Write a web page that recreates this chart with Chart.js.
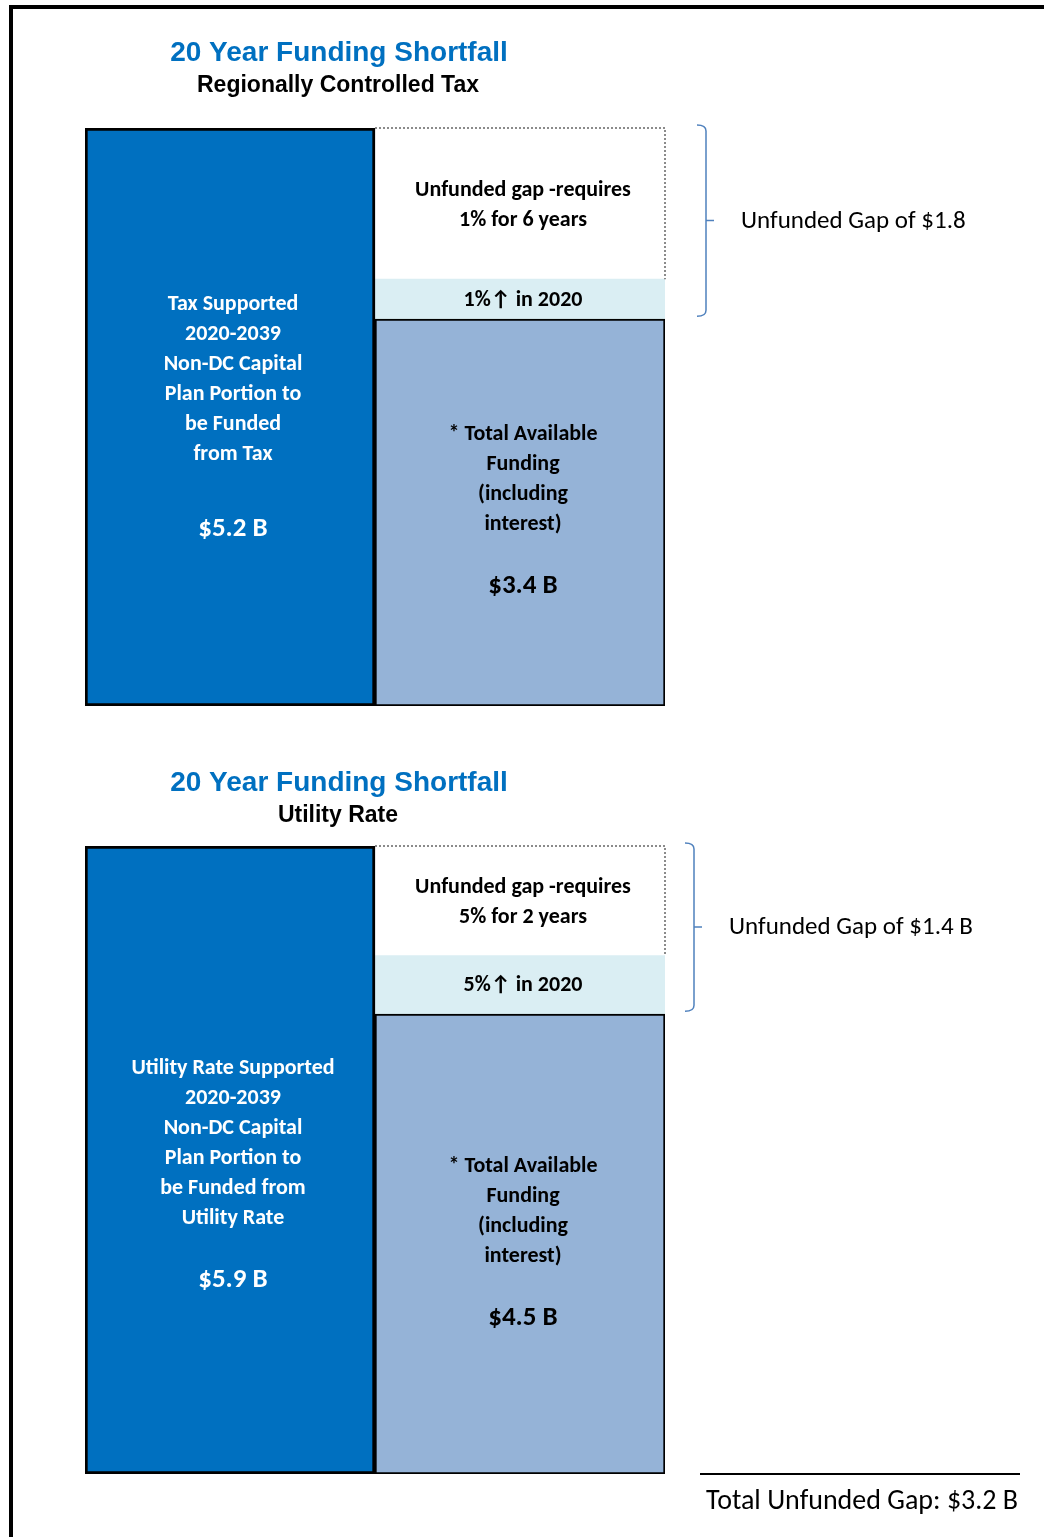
<!DOCTYPE html>
<html>
<head>
<meta charset="utf-8">
<script src="https://cdn.jsdelivr.net/npm/chart.js@4.4.0/dist/chart.umd.min.js"></script>
<style>
  body { margin: 0; background: #fff; width: 1044px; height: 1537px; position: relative; overflow: hidden; }
  .frame { position: absolute; left: 9px; top: 5px; width: 1100px; height: 1600px; border-top: 4px solid #000; border-left: 4px solid #000; }
  canvas { position: absolute; left: 0; }
  #taxChart { top: 0; }
  #utilChart { top: 740px; }
</style>
</head>
<body>
<div class="frame"></div>
<canvas id="taxChart" width="1044" height="740"></canvas>
<canvas id="utilChart" width="1044" height="797"></canvas>
<script>
// categories: left = what the plan needs, right = how it is paid
const categories = ['Plan', 'Funding'];

// Regionally controlled tax ($ billions)
const taxPlan = [5.2, null];
const taxAvailable = [null, 3.48];
const taxIncrease = [null, 0.36];
const taxGap = [null, 1.36];

// Utility rate ($ billions)
const utilPlan = [5.9, null];
const utilAvailable = [null, 4.32];
const utilIncrease = [null, 0.55];
const utilGap = [null, 1.03];

const taxLeftLines = ['Tax Supported', '2020-2039', 'Non-DC Capital', 'Plan Portion to', 'be Funded', 'from Tax'];
const utilLeftLines = ['Utility Rate Supported', '2020-2039', 'Non-DC Capital', 'Plan Portion to', 'be Funded from', 'Utility Rate'];
const availableLines = ['* Total Available', 'Funding', '(including', 'interest)'];

const BODY_FONT = 'Carlito, Lato, "Open Sans", sans-serif';
const HEAD_FONT = '"Liberation Sans", Arial, sans-serif';

function drawLines(ctx, lines, cx, y0, step) {
    lines.forEach((t, i) => ctx.fillText(t, cx, y0 + i * step));
}

function panelPlugin(p) {
    return {
        id: 'panelText_' + p.id,
        afterDatasetsDraw(chart) {
            const ctx = chart.ctx;
            const plan = chart.getDatasetMeta(0).data[0];
            const avail = chart.getDatasetMeta(1).data[1];
            const inc = chart.getDatasetMeta(2).data[1];
            const gap = chart.getDatasetMeta(3).data[1];
            const gl = gap.x - gap.width / 2, gr = gap.x + gap.width / 2;

            ctx.save();
            // dashed outline of the unfunded gap
            ctx.strokeStyle = '#666';
            ctx.lineWidth = 1.5;
            ctx.setLineDash([2, 2]);
            ctx.beginPath();
            ctx.moveTo(gl, gap.y);
            ctx.lineTo(gr, gap.y);
            ctx.lineTo(gr, gap.base);
            ctx.stroke();
            ctx.setLineDash([]);

            // brace
            const bx = gr + p.braceOff;
            const top = gap.y - 3, bot = inc.base - 3, mid = (top + bot) / 2;
            ctx.strokeStyle = '#4F81BD';
            ctx.lineWidth = 1.5;
            ctx.beginPath();
            ctx.moveTo(bx - 9, top);
            ctx.quadraticCurveTo(bx, top, bx, top + 6);
            ctx.lineTo(bx, bot - 6);
            ctx.quadraticCurveTo(bx, bot, bx - 9, bot);
            ctx.moveTo(bx, mid);
            ctx.lineTo(bx + 8, mid);
            ctx.stroke();

            ctx.textBaseline = 'middle';
            ctx.fillStyle = '#000';
            ctx.textAlign = 'left';
            ctx.font = '25px ' + BODY_FONT;
            ctx.fillText(p.gapNote, bx + 35, mid + 1);

            // titles
            ctx.textAlign = 'center';
            ctx.fillStyle = '#0070C0';
            ctx.font = 'bold 28px ' + HEAD_FONT;
            ctx.fillText('20 Year Funding Shortfall', 339, p.titleY);
            ctx.fillStyle = '#000';
            ctx.font = 'bold 23px ' + HEAD_FONT;
            ctx.fillText(p.subtitle, 338, p.titleY + 33);

            // left bar text
            ctx.fillStyle = '#fff';
            ctx.font = 'bold 22px ' + BODY_FONT;
            const lc = (plan.y + plan.base) / 2 + p.leftShift;
            const lh = (p.leftLines.length - 1) * 30 + p.leftGap;
            const ly0 = lc - lh / 2;
            drawLines(ctx, p.leftLines, plan.x + 3, ly0, 30);
            ctx.font = 'bold 27px ' + BODY_FONT;
            ctx.fillText(p.planLabel, plan.x + 3, ly0 + lh);

            // available funding text
            ctx.fillStyle = '#000';
            ctx.font = 'bold 22px ' + BODY_FONT;
            const ac = (avail.y + avail.base) / 2 - 2;
            const ah = 3 * 30 + 62;
            const ay0 = ac - ah / 2;
            drawLines(ctx, availableLines, avail.x + 3, ay0, 30);
            ctx.font = 'bold 27px ' + BODY_FONT;
            ctx.fillText(p.availLabel, avail.x + 3, ay0 + ah);

            // increase band and gap text
            ctx.font = 'bold 22px ' + BODY_FONT;
            ctx.fillText(p.incLabel, inc.x + 3, (inc.y + inc.base) / 2 + 1);
            const gc = (gap.y + gap.base) / 2 + 2;
            drawLines(ctx, p.gapLines, gap.x + 3, gc - 15, 30);

            if (p.total) {
                ctx.strokeStyle = '#000';
                ctx.lineWidth = 2;
                ctx.beginPath();
                ctx.moveTo(700, plan.base);
                ctx.lineTo(1020, plan.base);
                ctx.stroke();
                ctx.textAlign = 'left';
                ctx.font = '28px ' + BODY_FONT;
                ctx.fillText(p.total, 706, plan.base + 28);
            }
            ctx.restore();
        }
    };
}

function makePanel(id, p) {
    return new Chart(document.getElementById(id), {
        type: 'bar',
        data: {
            labels: categories,
            datasets: [
                { data: p.plan, backgroundColor: '#0070C0', borderColor: '#000', borderWidth: 3, borderSkipped: false },
                { data: p.available, backgroundColor: '#95B3D7', borderColor: '#000', borderWidth: 2, borderSkipped: false },
                { data: p.increase, backgroundColor: '#DAEEF3', borderWidth: 0 },
                { data: p.gap, backgroundColor: '#fff', borderWidth: 0 }
            ]
        },
        options: {
            responsive: false,
            animation: false,
            layout: { padding: p.padding },
            datasets: { bar: { barPercentage: 1, categoryPercentage: 1 } },
            scales: {
                x: { stacked: true, display: false },
                y: { stacked: true, display: false, min: 0, max: p.max }
            },
            plugins: { legend: { display: false }, tooltip: { enabled: false } }
        },
        plugins: [panelPlugin(p)]
    });
}

makePanel('taxChart', {
    id: 'tax',
    plan: taxPlan, available: taxAvailable, increase: taxIncrease, gap: taxGap,
    max: 5.2,
    padding: { top: 128, bottom: 34, left: 85, right: 379 },
    titleY: 53, subtitle: 'Regionally Controlled Tax',
    leftLines: taxLeftLines, leftShift: 0, leftGap: 75, planLabel: '$5.2 B',
    availLabel: '$3.4 B', incLabel: '1%\u2191 in 2020',
    gapLines: ['Unfunded gap -requires', '1% for 6 years'],
    braceOff: 41, gapNote: 'Unfunded Gap of $1.8'
});

makePanel('utilChart', {
    id: 'util',
    plan: utilPlan, available: utilAvailable, increase: utilIncrease, gap: utilGap,
    max: 5.9,
    padding: { top: 106, bottom: 63, left: 85, right: 379 },
    titleY: 43, subtitle: 'Utility Rate',
    leftLines: utilLeftLines, leftShift: 14, leftGap: 62, planLabel: '$5.9 B',
    availLabel: '$4.5 B', incLabel: '5%\u2191 in 2020',
    gapLines: ['Unfunded gap -requires', '5% for 2 years'],
    braceOff: 29, gapNote: 'Unfunded Gap of $1.4 B',
    total: 'Total Unfunded Gap: $3.2 B'
});
</script>
</body>
</html>
